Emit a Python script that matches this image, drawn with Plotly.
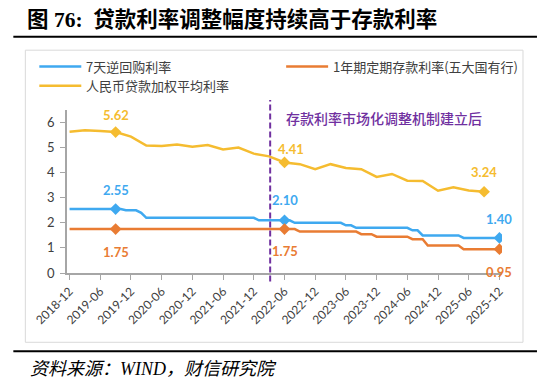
import plotly.graph_objects as go

# ---------------- data ----------------
years = list(range(2019, 2026))
months = ["2018-12"] + [f"{y}-{m:02d}" for y in years for m in range(1, 13)]

tick_labels = ["2018-12", "2019-06", "2019-12", "2020-06", "2020-12", "2021-06",
               "2021-12", "2022-06", "2022-12", "2023-06", "2023-12", "2024-06",
               "2024-12", "2025-06", "2025-12"]

# 7-day reverse repo rate, month-end (2018-12 .. 2025-12)
repo_rate = [
    2.55,                                                               # 2018-12
    2.55, 2.55, 2.55, 2.55, 2.55, 2.55, 2.55, 2.55, 2.55, 2.55, 2.50, 2.50,  # 2019
    2.50, 2.40, 2.20, 2.20, 2.20, 2.20, 2.20, 2.20, 2.20, 2.20, 2.20, 2.20,  # 2020
    2.20, 2.20, 2.20, 2.20, 2.20, 2.20, 2.20, 2.20, 2.20, 2.20, 2.20, 2.20,  # 2021
    2.10, 2.10, 2.10, 2.10, 2.10, 2.10, 2.10, 2.00, 2.00, 2.00, 2.00, 2.00,  # 2022
    2.00, 2.00, 2.00, 2.00, 2.00, 1.90, 1.90, 1.80, 1.80, 1.80, 1.80, 1.80,  # 2023
    1.80, 1.80, 1.80, 1.80, 1.80, 1.80, 1.70, 1.70, 1.50, 1.50, 1.50, 1.50,  # 2024
    1.50, 1.50, 1.50, 1.50, 1.40, 1.40, 1.40, 1.40, 1.40, 1.40, 1.40, 1.40,  # 2025
]

# 1-year fixed deposit rate of the big five state-owned banks, month-end
deposit_rate = [
    1.75,                                                               # 2018-12
    1.75, 1.75, 1.75, 1.75, 1.75, 1.75, 1.75, 1.75, 1.75, 1.75, 1.75, 1.75,  # 2019
    1.75, 1.75, 1.75, 1.75, 1.75, 1.75, 1.75, 1.75, 1.75, 1.75, 1.75, 1.75,  # 2020
    1.75, 1.75, 1.75, 1.75, 1.75, 1.75, 1.75, 1.75, 1.75, 1.75, 1.75, 1.75,  # 2021
    1.75, 1.75, 1.75, 1.75, 1.75, 1.75, 1.75, 1.75, 1.65, 1.65, 1.65, 1.65,  # 2022
    1.65, 1.65, 1.65, 1.65, 1.65, 1.65, 1.65, 1.65, 1.55, 1.55, 1.55, 1.45,  # 2023
    1.45, 1.45, 1.45, 1.45, 1.45, 1.45, 1.35, 1.35, 1.35, 1.10, 1.10, 1.10,  # 2024
    1.10, 1.10, 1.10, 1.10, 0.95, 0.95, 0.95, 0.95, 0.95, 0.95, 0.95, 0.95,  # 2025
]

# RMB loan weighted average rate, quarterly
loan_quarters = ["2018-12", "2019-03", "2019-06", "2019-09", "2019-12",
                 "2020-03", "2020-06", "2020-09", "2020-12",
                 "2021-03", "2021-06", "2021-09", "2021-12",
                 "2022-03", "2022-06", "2022-09", "2022-12",
                 "2023-03", "2023-06", "2023-09", "2023-12",
                 "2024-03", "2024-06", "2024-09", "2024-12",
                 "2025-03", "2025-06", "2025-09"]
loan_rate = [5.63, 5.69, 5.66, 5.62, 5.44,
             5.08, 5.06, 5.12, 5.03,
             5.10, 4.93, 5.00, 4.76,
             4.65, 4.41, 4.34, 4.14,
             4.34, 4.19, 4.14, 3.83,
             3.95, 3.68, 3.67, 3.28,
             3.42, 3.29, 3.24]

series_names = ["7天逆回购利率", "1年期定期存款利率(五大国有行)", "人民币贷款加权平均利率"]
marked_repo = ["2019-09", "2022-06", "2025-12"]
marked_deposit = ["2019-09", "2022-06", "2025-12"]
marked_loan = ["2019-09", "2022-06", "2025-09"]
reform_month_pos = 39.2   # deposit-rate mechanism established (2022-04)

title_text = "图 76:  贷款利率调整幅度持续高于存款利率"
note_text = "存款利率市场化调整机制建立后"
source_text = "资料来源：<i>WIND</i>，财信研究院"

# ---------------- styles ----------------
BLUE = "#3FA9F0"
ORANGE = "#E97C33"
YELLOW = "#F5BC30"
PURPLE = "#7030A0"
OFF = 8                      # default page margin of the html body
W, H = 550 - OFF, 388 - OFF  # figure size so that it fits into the window
# plot area in window pixels: x 66.7..502, y 110..273.5
L, R, T, B = 66.7 - OFF, 550 - 502, 110 - OFF, 388 - 273.5
PW, PH = W - L - R, H - T - B
NUM_FONT = "Lato, 'Open Sans', sans-serif"
CJK_FONT = "'Noto Sans CJK SC', sans-serif"


def px_x(px):
    """window pixel x -> paper coordinate"""
    return (px - OFF - L) / PW


def px_y(py):
    """window pixel y -> paper coordinate"""
    return (OFF + T + PH - py) / PH


fig = go.Figure()

line_specs = [
    (months, repo_rate, BLUE, marked_repo, series_names[0]),
    (months, deposit_rate, ORANGE, marked_deposit, series_names[1]),
    (loan_quarters, loan_rate, YELLOW, marked_loan, series_names[2]),
]
for xs, ys, col, marks, name in line_specs:
    fig.add_trace(go.Scatter(x=xs, y=ys, mode="lines", name=name,
                             line=dict(color=col, width=2.5), showlegend=False,
                             hoverinfo="skip"))
    my = [ys[xs.index(m)] for m in marks]
    fig.add_trace(go.Scatter(x=marks, y=my, mode="markers", showlegend=False,
                             marker=dict(symbol="diamond", size=9, color=col),
                             hoverinfo="skip"))

# value labels
label_shift = {  # (series index) -> list of (xshift, yshift) per marked point
    0: [(0, 19), (0, 20), (0, 19)],
    1: [(0, -23), (0, -22), (0, -23)],
    2: [(0, 17), (6, 13), (0, 20)],
}
for k, (xs, ys, col, marks, name) in enumerate(line_specs):
    for j, m in enumerate(marks):
        v = ys[xs.index(m)]
        dx, dy = label_shift[k][j]
        fig.add_annotation(x=m, y=v, xref="x", yref="y", text=f"{v:.2f}",
                           showarrow=False, xshift=dx, yshift=dy,
                           font=dict(family=NUM_FONT, size=13, color=col, weight="bold"))

# reform dashed line & note
fig.add_shape(type="line", xref="x", yref="paper", x0=reform_month_pos, x1=reform_month_pos,
              y0=px_y(282), y1=px_y(100), line=dict(color=PURPLE, width=2, dash="6px,3px"),
              layer="above")
fig.add_annotation(x="2022-06", y=6.18, xref="x", yref="y", xanchor="left", xshift=-1,
                   text=note_text, showarrow=False,
                   font=dict(family=CJK_FONT, size=14, color=PURPLE, weight=500))

# frame box
fig.add_shape(type="rect", xref="paper", yref="paper", x0=px_x(25), x1=px_x(523),
              y0=px_y(343), y1=px_y(50), line=dict(color="#D9D9D9", width=1), layer="below")

# manual legend
leg = [(39, 66.3, BLUE, series_names[0]), (286, 66.3, ORANGE, series_names[1]),
       (39, 85.6, YELLOW, series_names[2])]
for x0, y0, col, name in leg:
    fig.add_shape(type="line", xref="paper", yref="paper", x0=px_x(x0), x1=px_x(x0 + 42),
                  y0=px_y(y0), y1=px_y(y0), line=dict(color=col, width=2.5))
    fig.add_annotation(x=px_x(x0 + 45), y=px_y(y0), xref="paper", yref="paper",
                       xanchor="left", yanchor="middle", text=name, showarrow=False,
                       font=dict(family=CJK_FONT, size=13, color="#404040"))

# title, rules, source
fig.add_annotation(x=px_x(25), y=px_y(19), xref="paper", yref="paper", xanchor="left",
                   yanchor="middle", text="<b>" + title_text + "</b>", showarrow=False,
                   font=dict(family="'Liberation Serif', 'Noto Sans CJK SC', serif", size=21.5,
                             color="#000000"))
for yy in (36.5, 352):
    fig.add_shape(type="line", xref="paper", yref="paper", x0=px_x(13), x1=px_x(537),
                  y0=px_y(yy), y1=px_y(yy), line=dict(color="#000000", width=2))
fig.add_annotation(x=px_x(28), y=px_y(370), xref="paper", yref="paper", xanchor="left",
                   yanchor="middle", text=source_text, showarrow=False,
                   font=dict(family="'Liberation Serif', 'Noto Sans CJK SC', serif", size=18,
                             color="#000000", style="italic"))

fig.update_layout(
    template="none",
    width=W, height=H, margin=dict(l=L, r=R, t=T, b=B, pad=0),
    paper_bgcolor="white", plot_bgcolor="white", showlegend=False,
    xaxis=dict(type="category", categoryorder="array", categoryarray=months,
               range=[-0.5, len(months) - 0.5], tickmode="array", tickvals=tick_labels,
               ticktext=tick_labels, tickangle=-45, ticks="outside", ticklen=5,
               tickcolor="#A6A6A6", showline=True, linecolor="#A6A6A6", linewidth=1.5,
               showgrid=False, zeroline=False, automargin=False,
               tickfont=dict(family=NUM_FONT, size=12, color="#404040")),
    yaxis=dict(range=[0, 6.5], tickmode="array", tickvals=[0, 1, 2, 3, 4, 5, 6],
               ticks="outside", ticklen=5, tickcolor="#A6A6A6", showline=True,
               linecolor="#A6A6A6", linewidth=1.5, showgrid=False, zeroline=False,
               automargin=False, ticklabelstandoff=3,
               tickfont=dict(family=NUM_FONT, size=13, color="#404040")),
)

fig.write_html("out.html")
